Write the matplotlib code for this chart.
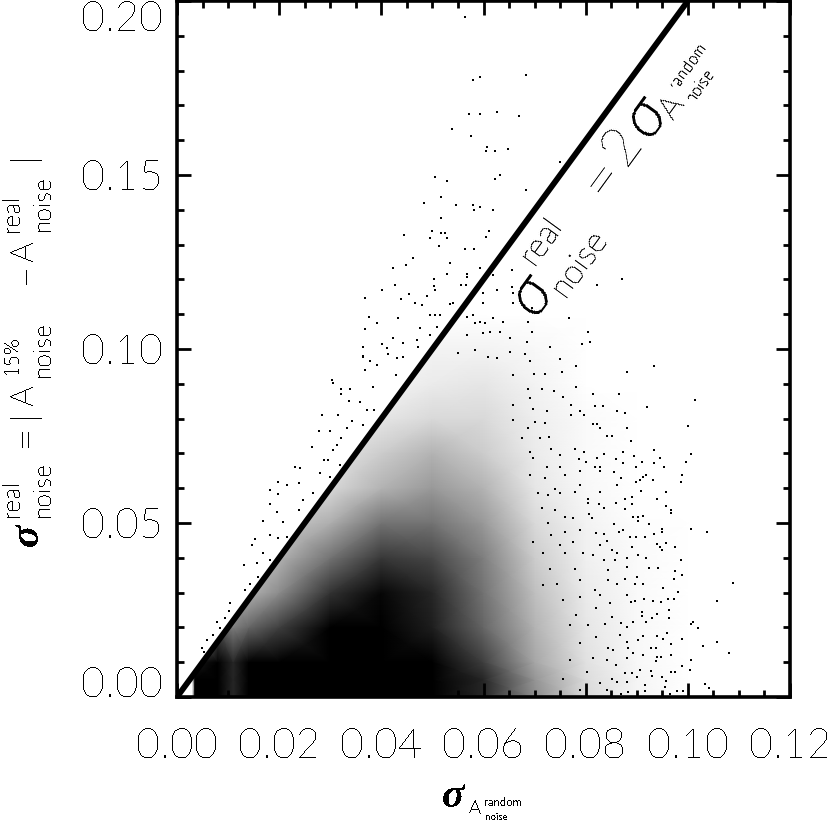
import matplotlib
matplotlib.use("Agg")
import matplotlib.pyplot as plt
from matplotlib.patches import Polygon
import numpy as np

# scatter values, (sigma random, sigma real)
points_upper = [
    (.0564,.1954),(.0580,.1773),(.0593,.1782),(.0683,.1788),(.0572,.1676),(.0593,.1676),(.0627,.1681),(.0670,.1670),
    (.0538,.1632),(.0576,.1612),(.0607,.1581),(.0605,.1569),(.0623,.1569),(.0648,.1575),(.0750,.1538),(.0505,.1494),
    (.0529,.1483),(.0632,.1500),(.0623,.1489),(.0517,.1437),(.0683,.1457),(.0484,.1420),(.0546,.1414),(.0580,.1414),
    (.0582,.1400),(.0593,.1408),(.0619,.1400),(.0517,.1377),(.0499,.1339),(.0444,.1328),(.0517,.1334),(.0525,.1334),
    (.0495,.1319),(.0529,.1319),(.0611,.1339),(.0605,.1322),(.0513,.1296),(.0564,.1288),(.0582,.1288),(.0462,.1262),
    (.0448,.1242),(.0423,.1233),(.0535,.1247),(.0593,.1233),(.0529,.1216),(.0568,.1216),(.0568,.1207),(.0503,.1201),
    (.0427,.1184),(.0503,.1181),(.0556,.1184),(.0566,.1184),(.0401,.1170),(.0505,.1170),(.0368,.1147),(.0454,.1158),
    (.0489,.1152),(.0439,.1144),(.0466,.1132),(.0480,.1127),(.0656,.1227),(.0619,.1213),(.0822,.1184),(.0871,.1201),
    (.0656,.1178),(.0599,.1161),(.0627,.1170),(.0658,.1161),(.0658,.1132),(.0599,.1132),(.0695,.1118),(.0707,.1104),
    (.0687,.1078),(.0768,.1089),(.0695,.1049),(.0805,.1049),(.0809,.1020),(.0793,.1015),(.0730,.1006),(.0685,.1020),
    (.0652,.1032),(.0632,.1049),(.0613,.1049),(.0638,.1078),(.0619,.1089),(.0603,.1075),(.0593,.1078),(.0583,.1075),
    (.0568,.1092),(.0580,.1098),(.0599,.1046),(.0568,.1040),(.0583,.0997),(.0627,.0974),(.0652,.0992),(.0750,.0971),
    (.0609,.0977),(.0550,.0989),(.0376,.1092),(.0392,.1075),(.0433,.1089),(.0368,.1058),(.0364,.1006),(.0364,.0977),
    (.0401,.1015),(.0423,.1032),(.0442,.1017),(.0411,.1003),(.0431,.0974),(.0442,.0977),(.0476,.1060),(.0495,.1040),
    (.0509,.1063),(.0470,.1026),(.0472,.1006),(.0495,.1098),(.0505,.1098),(.0515,.1098),(.0535,.1130),(.0540,.1132),
]
points_right = [
    (.0750,.0970),(.0782,.0951),(.0934,.0951),(.0880,.0933),(.0753,.0933),(.0699,.0928),(.0720,.0928),(.0782,.0890),
    (.0815,.0870),(.0866,.0870),(.1014,.0853),(.0738,.0880),(.0756,.0863),(.0818,.0837),(.0833,.0837),(.0921,.0832),
    (.0771,.0839),(.0789,.0822),(.0862,.0822),(.0877,.0817),(.0797,.0810),(.0771,.0810),(.0815,.0784),(.0823,.0784),
    (.0829,.0772),(.0880,.0772),(.1000,.0779),(.0841,.0751),(.0851,.0751),(.0888,.0736),(.0779,.0714),(.0797,.0703),
    (.0874,.0703),(.0934,.0710),(.0836,.0698),(.0895,.0692),(.1007,.0698),(.0946,.0688),(.0996,.0676),(.0823,.0688),
    (.0786,.0683),(.0859,.0683),(.0801,.0676),(.0874,.0671),(.0910,.0676),(.0934,.0671),(.0818,.0662),(.0829,.0660),
    (.0898,.0660),(.0953,.0660),(.0789,.0650),(.0855,.0647),(.0829,.0650),(.0989,.0638),(.0919,.0638),(.0913,.0631),
    (.0906,.0623),(.0932,.0623),(.0898,.0619),(.0987,.0619),(.0869,.0628),(.0789,.0609),(.0861,.0609),(.0779,.0590),
    (.0828,.0590),(.0908,.0593),(.0957,.0590),(.0877,.0569),(.0891,.0575),(.0805,.0569),(.0805,.0558),(.0826,.0554),
    (.0859,.0558),(.0891,.0554),(.0939,.0569),(.0836,.0542),(.0877,.0539),(.0957,.0549),(.0967,.0537),(.0967,.0528),
    (.0806,.0526),(.0892,.0518),(.0902,.0518),(.0913,.0521),(.0902,.0505),(.0812,.0513),(.0855,.0496),(.0924,.0496),
    (.1007,.0484),(.1037,.0473),(.0949,.0484),(.0949,.0473),(.0874,.0480),(.0866,.0473),(.0934,.0468),(.0821,.0472),
    (.0836,.0467),(.0887,.0459),(.0898,.0459),(.0916,.0459),(.0957,.0443),(.0939,.0439),(.0945,.0432),(.0950,.0422),
    (.0975,.0430),(.0891,.0430),(.0841,.0449),(.0828,.0437),(.0815,.0408),(.0851,.0422),(.0861,.0413),(.0903,.0408),
    (.0919,.0398),(.0987,.0393),(.0880,.0398),(.0835,.0393),(.0857,.0393),(.0844,.0365),(.0880,.0374),(.0924,.0372),
    (.0942,.0372),(.0975,.0362),(.0988,.0350),(.0972,.0340),(.0900,.0346),(.0877,.0338),(.0844,.0336),(.0913,.0324),
    (.0897,.0324),(.0862,.0324),(.1089,.0329),(.0952,.0314),(.0981,.0302),(.0880,.0293),(.0828,.0293),(.0915,.0283),
    (.0962,.0283),(.0972,.0281),(.1058,.0276),(.0932,.0277),(.0947,.0274),(.0897,.0277),(.0848,.0269),(.0888,.0272),
    (.0964,.0250),(.0910,.0245),(.0910,.0233),(.0939,.0238),(.0964,.0228),(.1011,.0216),(.1006,.0210),(.1019,.0197),
    (.0919,.0216),(.0893,.0216),(.0870,.0213),(.0851,.0231),(.0929,.0228),(.0880,.0202),(.0960,.0183),(.0913,.0175),
    (.0867,.0178),(.0989,.0168),(.0952,.0168),(.0939,.0175),(.0903,.0163),(.1058,.0159),(.1029,.0147),(.0968,.0152),
    (.0927,.0142),(.0938,.0142),(.0880,.0159),(.0883,.0142),(.0854,.0135),(.1081,.0127),(.0968,.0122),(.0913,.0122),
    (.0893,.0127),(.0939,.0116),(.0947,.0116),(.0938,.0104),(.1007,.0106),(.0880,.0111),(.0988,.0090),(.1004,.0077),
    (.0968,.0073),(.0927,.0075),(.0906,.0077),(.0891,.0070),(.0929,.0060),(.0949,.0058),(.0975,.0073),(.0900,.0058),
    (.0877,.0068),(.0859,.0092),(.0861,.0044),(.0851,.0053),(.0957,.0047),(.0916,.0034),(.0880,.0044),(.1034,.0037),
    (.1041,.0025),(.0955,.0029),(.0978,.0018),(.0990,.0018),(.0917,.0018),(.0965,.0010),(.0883,.0015),(.0870,.0010),
]
points_mid = [
    (.0658,.0925),(.0681,.0987),(.0691,.0966),(.0688,.0884),(.0714,.0884),(.0691,.0858),(.0658,.0839),(.0697,.0829),
    (.0724,.0822),(.0658,.0796),(.0701,.0791),(.0688,.0772),(.0720,.0788),(.0729,.0746),(.0710,.0743),(.0675,.0743),
    (.0732,.0714),(.0750,.0695),(.0691,.0705),(.0697,.0686),(.0750,.0662),(.0724,.0662),(.0720,.0628),(.0759,.0638),
    (.0691,.0638),(.0740,.0599),(.0750,.0585),(.0707,.0585),(.0727,.0580),(.0714,.0542),(.0740,.0537),(.0759,.0518),
    (.0776,.0513),(.0727,.0499),(.0759,.0475),(.0789,.0480),(.0733,.0465),(.0697,.0446),(.0776,.0446),(.0750,.0437),
    (.0717,.0413),(.0759,.0413),(.0795,.0413),(.0779,.0369),(.0730,.0369),(.0789,.0336),(.0743,.0326),(.0717,.0322),
    (.0818,.0307),(.0789,.0288),(.0756,.0278),(.0821,.0255),(.0782,.0235),(.0838,.0211),(.0805,.0207),(.0769,.0207),
    (.0821,.0173),(.0789,.0154),(.0844,.0140),(.0815,.0111),(.0769,.0106),(.0841,.0106),(.0802,.0073),(.0756,.0053),
    (.0828,.0039),(.0789,.0020),(.0841,.0020),
]
points_left = [
    (.0304,.0911),(.0306,.0903),(.0321,.0884),(.0321,.0870),(.0339,.0884),(.0365,.0980),(.0378,.0966),(.0368,.0940),
    (.0391,.0954),(.0414,.0987),(.0429,.0925),(.0384,.0890),(.0336,.0851),(.0359,.0848),(.0283,.0810),(.0316,.0810),
    (.0371,.0825),(.0385,.0825),(.0342,.0794),(.0277,.0764),(.0300,.0764),(.0332,.0772),(.0365,.0781),(.0322,.0743),
    (.0264,.0719),(.0313,.0724),(.0306,.0710),(.0287,.0681),(.0296,.0681),(.0319,.0667),(.0231,.0660),(.0241,.0657),
    (.0280,.0643),(.0300,.0633),(.0238,.0614),(.0215,.0609),(.0198,.0619),(.0182,.0595),(.0198,.0583),(.0182,.0554),
    (.0238,.0537),(.0195,.0532),(.0208,.0504),(.0169,.0507),(.0247,.0566),(.0267,.0585),(.0182,.0465),(.0198,.0456),
    (.0153,.0454),(.0146,.0437),(.0215,.0460),(.0169,.0413),(.0156,.0384),(.0131,.0379),(.0182,.0393),(.0159,.0345),
    (.0133,.0307),(.0143,.0326),(.0104,.0269),(.0102,.0248),(.0078,.0216),(.0094,.0226),(.0084,.0197),(.0058,.0163),
    (.0071,.0178),(.0048,.0140),(.0052,.0130),
]

# share of black in the crowded part, estimated per cell
density_x = [0, .003, .0035, .008, .011, .014, .02, .03, .04, .05, .06, .07, .08, .09, .10, .11]
density_y = [0, .005, .01, .02, .03, .04, .05, .06, .07, .08, .09, .10, .11]
density = [
    [0, 0, 1.0, 1.0, .85, 1.0, 1.0, 1.0, 1.0, 1.0, .85, .45, .15, .04, 0, 0],
    [0, 0, 1.0, 1.0, .85, 1.0, 1.0, 1.0, 1.0, 1.0, .85, .42, .14, .04, 0, 0],
    [0, 0, .90, 1.0, .85, 1.0, 1.0, 1.0, 1.0, 1.0, .75, .35, .12, .03, 0, 0],
    [0, 0, 0, .70, .50, .60, .75, 1.0, 1.0, .88, .60, .30, .10, .03, 0, 0],
    [0, 0, 0, .30, .30, .30, .45, .80, .97, .85, .55, .25, .08, .02, 0, 0],
    [0, 0, 0, .20, .20, .20, .30, .55, .78, .72, .50, .20, .06, .02, 0, 0],
    [0, 0, 0, .10, .10, .10, .20, .32, .55, .55, .40, .15, .05, .01, 0, 0],
    [0, 0, 0, .10, .10, .10, .10, .15, .30, .40, .30, .10, .03, 0, 0, 0],
    [0, 0, 0, 0, 0, 0, .05, .10, .20, .30, .20, .08, .02, 0, 0, 0],
    [0, 0, 0, 0, 0, 0, 0, .05, .10, .15, .15, .07, .02, 0, 0, 0],
    [0, 0, 0, 0, 0, 0, 0, 0, .04, .08, .10, .05, 0, 0, 0, 0],
    [0, 0, 0, 0, 0, 0, 0, 0, .02, .05, .05, .03, 0, 0, 0, 0],
    [0, 0, 0, 0, 0, 0, 0, 0, 0, 0, 0, 0, 0, 0, 0, 0],
]

line_x = [0.0, 0.10]
line_y = [0.0, 0.20]
x_ticks = [0.00, 0.02, 0.04, 0.06, 0.08, 0.10, 0.12]
y_ticks = [0.00, 0.05, 0.10, 0.15, 0.20]

plt.rcParams['font.family'] = ['Lato', 'DejaVu Sans']
plt.rcParams['text.antialiased'] = False

W, H = 830, 823
fig = plt.figure(figsize=(W / 100, H / 100), dpi=100)
ax = fig.add_axes([177 / W, (H - 697) / H, 613 / W, 696 / H])


def put(px, py, s, size, rot=0, **kw):
    kw.setdefault('weight', 'light')
    fig.text(px / W, 1 - py / H, s, fontsize=size, rotation=rot, ha='center', va='center',
             rotation_mode='anchor', **kw)


mesh = ax.pcolormesh(density_x, density_y, density, shading='gouraud', cmap='gray_r', vmin=0, vmax=1)
# the crowd stops at the line
below = Polygon([(line_x[0], line_y[0]), (line_x[1], line_y[1]), (0.12, 0.20), (0.12, 0.0)],
                transform=ax.transData, facecolor='none', edgecolor='none')
ax.add_patch(below)
mesh.set_clip_path(below)

for pts in (points_upper, points_right, points_mid, points_left):
    arr = np.array(pts)
    ax.scatter(arr[:, 0], arr[:, 1], s=2.2, marker='s', c='black', linewidths=0, antialiased=False)

ax.plot(line_x, line_y, color='black', lw=4.2, solid_capstyle='butt')

ax.set_xlim(0, 0.12)
ax.set_ylim(0, 0.20)
ax.set_xticks(x_ticks)
ax.set_yticks(y_ticks)
ax.set_xticklabels([f"{v:.2f}" for v in x_ticks])
ax.set_yticklabels([f"{v:.2f}" for v in y_ticks])
ax.set_xticks(np.arange(0, 0.1201, 0.005), minor=True)
ax.set_yticks(np.arange(0, 0.2001, 0.01), minor=True)
ax.tick_params(which='major', direction='in', top=True, right=True, length=10, width=2, labelsize=30)
ax.tick_params(which='minor', direction='in', top=True, right=True, length=5, width=2)
ax.tick_params(axis='x', which='major', pad=22)
ax.tick_params(axis='y', which='major', pad=10)
for lab in ax.get_xticklabels() + ax.get_yticklabels():
    lab.set_fontweight('light')
ax.get_yticklabels()[0].set_va('baseline')
ax.get_yticklabels()[-1].set_va('top')
for sp in ax.spines.values():
    sp.set_linewidth(2.6)

sig = dict(family='Liberation Serif', style='italic', weight='bold')
sig_thin = dict(family='Open Sans', style='italic', weight='light')

# x label
put(453, 797, 'σ', 30, **sig)
put(475, 809, 'A', 14)
put(503, 802, 'random', 8, weight='normal')
put(497, 817, 'noise', 7, weight='normal')

# y label
put(28, 535, 'σ', 30, rot=90, **sig)
put(12, 498, 'real', 18, rot=90)
put(43, 489, 'noise', 18, rot=90)
put(27, 435, '=', 30, rot=90)
put(23, 414, '|', 26, rot=90)
put(25, 394, 'A', 24, rot=90)
put(12, 355, '15%', 15, rot=90)
put(43, 349, 'noise', 18, rot=90)
put(27, 273, '−', 28, rot=90)
put(25, 250, 'A', 24, rot=90)
put(12, 213, 'real', 18, rot=90)
put(43, 203, 'noise', 18, rot=90)
put(23, 156, '|', 26, rot=90)

# line annotation
put(531, 295, 'σ', 44, rot=54, **sig_thin)
put(542, 240, 'real', 24, rot=54)
put(580, 263, 'noise', 24, rot=54)
put(603, 178, '=', 42, rot=54)
put(622, 145, '2', 40, rot=54)
put(645, 117, 'σ', 44, rot=54, **sig_thin)
put(673, 107, 'A', 24, rot=54)
put(688, 65, 'random', 12, rot=54)
put(700, 85, 'noise', 12, rot=54)

fig.savefig('out.png', dpi=100)
